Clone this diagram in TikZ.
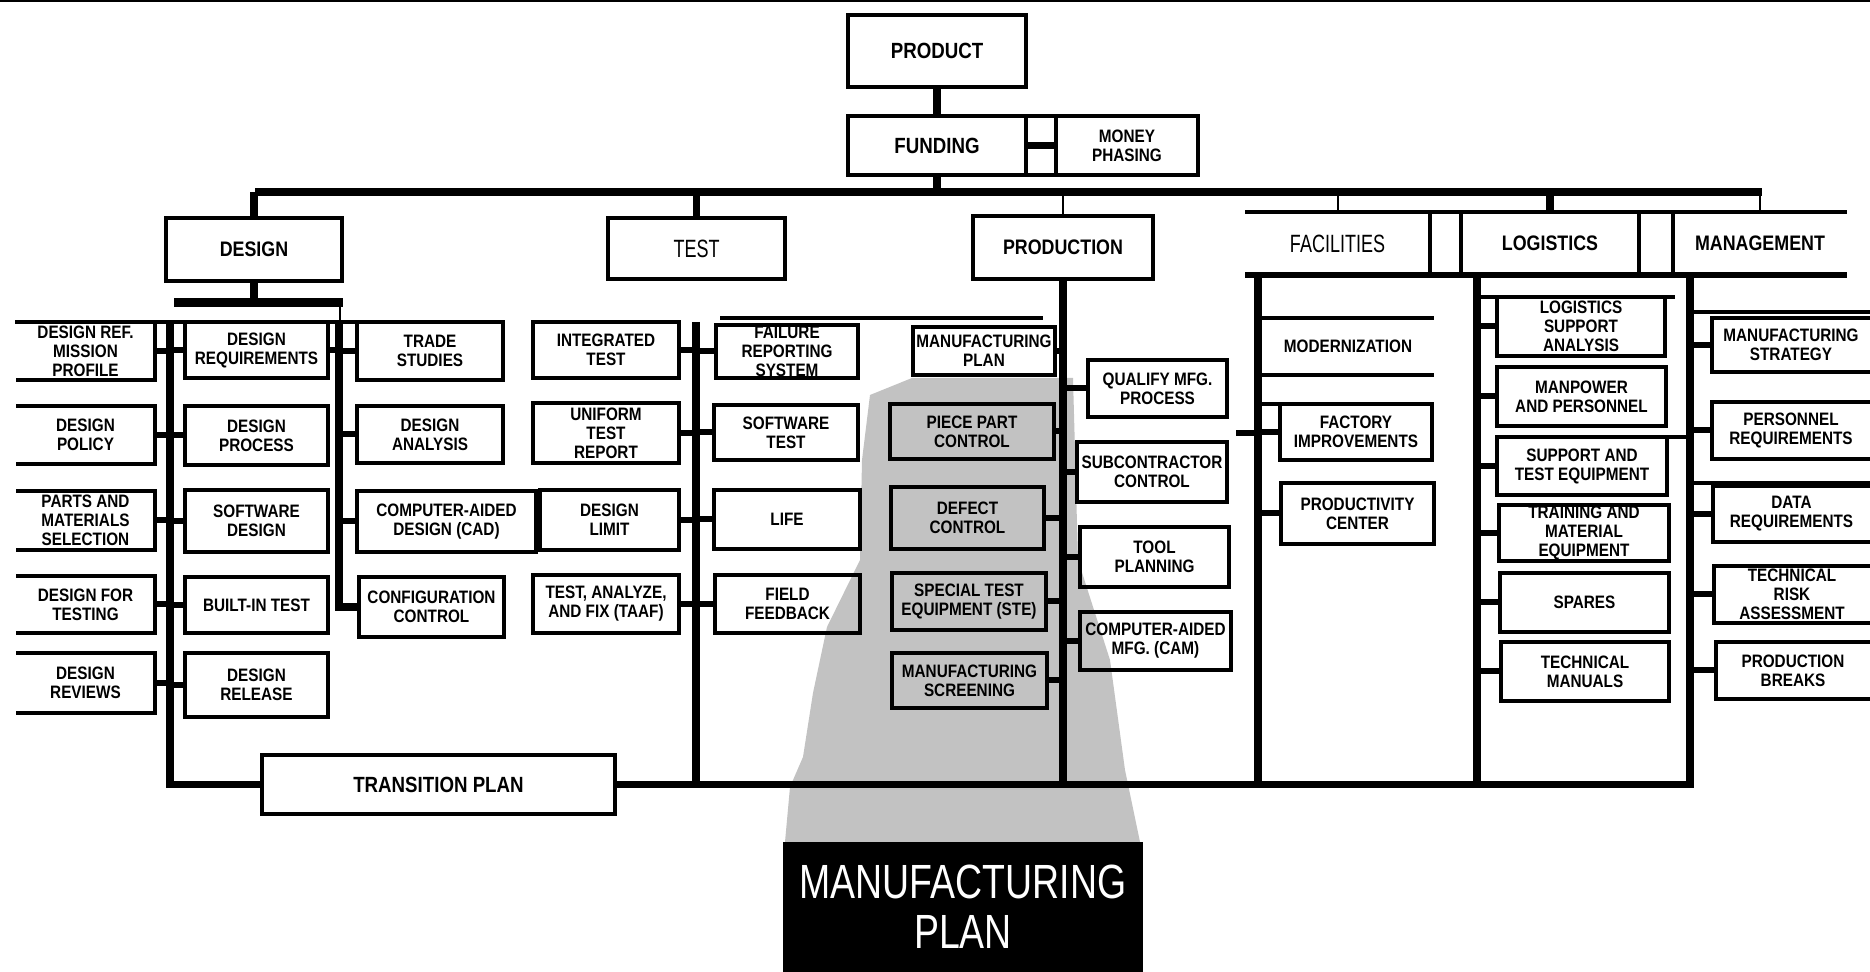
\documentclass[tikz,border=0pt]{standalone}
\usepackage{fontspec}
\setmainfont{Liberation Sans}[FakeStretch=0.85]
\newfontfamily\condreg{Liberation Sans}[FakeStretch=0.72]
\newfontfamily\mfgfont{Liberation Sans}[FakeStretch=0.78]
\usetikzlibrary{calc}
\newcommand\bx[7][]{%
  \node[bbox,minimum width={(#5-#3)*0.5pt},minimum height={(#6-#4)*0.5pt},#1] (#2) at ({(#3+#5)/2},{(#4+#6)/2}) {#7};}
\begin{document}
\begin{tikzpicture}[x=0.5pt,y=-0.5pt,
  bbox/.style={draw,line width=1.6pt,inner sep=0pt,outer sep=0pt,align=center,font=\bfseries\fontsize{9}{9.5}\selectfont},
  hdr/.style={font=\bfseries\fontsize{10.5}{12}\selectfont},
  big/.style={font=\bfseries\fontsize{11}{12}\selectfont},
  cnd/.style={font=\condreg\fontsize{12.5}{14}\selectfont},
  spine/.style={line width=3.8pt},
  stub/.style={line width=3pt},
  bline/.style={line width=1.6pt},
  thinl/.style={line width=1pt},
  stip/.style={fill=black!24}]
\useasboundingbox (0,0) rectangle (1870,972);
\fill[white] (0,0) rectangle (1870,972);

% shaded funnel
\fill[stip] (912,378) -- (1073,378) -- (1078,560) -- (1110,660) -- (1125,770) -- (1140,842)
  -- (785,842) -- (790,787) -- (803,757) -- (813,693) -- (827,627) -- (860,560) -- (862,460)
  -- (870,395) -- cycle;

% top border
\coordinate (tl) at (0,1); \coordinate (tr) at (1870,1);
\draw[thinl] (tl) -- (tr);

% top of tree
\bx[big]{PROD}{848}{15}{1026}{87}{PRODUCT}
\bx[big]{FUND}{848}{116}{1026}{175}{FUNDING}
\bx{MONEY}{1056}{116}{1198}{175}{MONEY\\PHASING}
\draw[spine] (PROD) -- (FUND);
\draw[spine] (FUND.east) -- (MONEY.west);
\draw[bline] (FUND.north east) -- (MONEY.north west) (FUND.south east) -- (MONEY.south west);

\coordinate (busL) at (255,192); \coordinate (busR) at (1762,192);
\draw[spine] (busL) -- (busR);
\draw[spine] (FUND.south) -- (FUND.south |- busL);

\bx[hdr]{DES}{166}{218}{342}{281}{DESIGN}
\bx[cnd]{TST}{608}{218}{785}{279}{TEST}
\bx[hdr]{PRN}{973}{216}{1153}{279}{PRODUCTION}
\draw[spine] (DES.north) -- (DES.north |- busL);
\draw[spine] (TST.north) -- (TST.north |- busL);
\draw[thinl] (PRN.north) -- (PRN.north |- busL);

% facilities / logistics / management band
\bx[draw=none,cnd]{FAC}{1245}{212}{1430}{275}{FACILITIES}
\bx[draw=none,hdr]{LOG}{1461}{212}{1639}{275}{LOGISTICS}
\bx[draw=none,hdr]{MAN}{1673}{212}{1847}{275}{MANAGEMENT}
\draw[bline] (FAC.north west) -- (MAN.north east);
\draw[line width=2.6pt] (FAC.south west) -- (MAN.south east);
\draw[bline] (FAC.north east) -- (FAC.south east) (LOG.north west) -- (LOG.south west)
  (LOG.north east) -- (LOG.south east) (MAN.north west) -- (MAN.south west);
\draw[thinl] (FAC.north) -- (FAC.north |- busL);
\draw[spine] (LOG.north) -- (LOG.north |- busL);
\draw[thinl] (MAN.north) -- (MAN.north |- busL);

% design area
\coordinate (dbar) at (254,303); \coordinate (dbarL) at (174,303); \coordinate (dbarR) at (343,303);
\draw[spine] (DES.south) -- (dbar);
\draw[line width=4.5pt] (dbarL) -- (dbarR);
\coordinate (dt) at (340,303); \coordinate (dtb) at (340,322);
\draw[thinl] (dt) -- (dtb);
\coordinate (rowL) at (15,322); \coordinate (rowR) at (504,322);
\draw[bline] (rowL) -- (rowR);

\bx[draw=none]{A1}{16}{322}{155}{380}{DESIGN REF.\\MISSION\\PROFILE}
\bx[draw=none]{A2}{16}{406}{155}{464}{DESIGN\\POLICY}
\bx[draw=none]{A3}{16}{491}{155}{550}{PARTS AND\\MATERIALS\\SELECTION}
\bx[draw=none]{A4}{16}{576}{155}{633}{DESIGN FOR\\TESTING}
\bx[draw=none]{A5}{16}{653}{155}{713}{DESIGN\\REVIEWS}
\foreach \n in {A1,A2,A3,A4,A5}
  \draw[bline] (\n.north west) -- (\n.north east) -- (\n.south east) -- (\n.south west);

\bx{B1}{185}{322}{328}{378}{DESIGN\\REQUIREMENTS}
\bx{B2}{185}{406}{328}{465}{DESIGN\\PROCESS}
\bx{B3}{185}{490}{328}{552}{SOFTWARE\\DESIGN}
\bx{B4}{185}{577}{328}{633}{BUILT-IN TEST}
\bx{B5}{185}{653}{328}{717}{DESIGN\\RELEASE}

\bx[font=\bfseries\fontsize{11}{12}\selectfont]{TRANS}{262}{755}{615}{814}{TRANSITION PLAN}
\coordinate (sA) at (170,322);
\draw[spine] (sA) |- (TRANS.west);
\foreach \n in {A1,A2,A3,A4,A5} \draw[stub] (\n.east) -- (\n.east -| sA);
\foreach \n in {B1,B2,B3,B4,B5} \draw[stub] (\n.west) -- (\n.west -| sA);

\bx{C1}{357}{322}{503}{380}{TRADE\\STUDIES}
\bx{C2}{357}{406}{503}{463}{DESIGN\\ANALYSIS}
\bx{C3}{357}{491}{536}{552}{COMPUTER-AIDED\\DESIGN (CAD)}
\bx{C4}{359}{577}{504}{637}{CONFIGURATION\\CONTROL}
\coordinate (sC) at (339,322);
\draw[spine] (sC) |- (C4.west);
\draw[stub] (B1.east) -- (B1.east -| sC);
\foreach \n in {C1,C2,C3} \draw[stub] (\n.west) -- (\n.west -| sC);

% test area
\bx{D1}{533}{322}{679}{378}{INTEGRATED\\TEST}
\bx{D2}{533}{403}{679}{463}{UNIFORM\\TEST\\REPORT}
\bx{D3}{540}{490}{679}{550}{DESIGN\\LIMIT}
\bx{D4}{533}{575}{679}{633}{TEST, ANALYZE,\\AND FIX (TAAF)}
\bx{E1}{716}{325}{858}{378}{FAILURE\\REPORTING\\SYSTEM}
\bx{E2}{714}{405}{858}{460}{SOFTWARE\\TEST}
\bx{E3}{714}{490}{860}{549}{LIFE}
\bx{E4}{715}{575}{860}{633}{FIELD\\FEEDBACK}
\coordinate (efL) at (720,318); \coordinate (efR) at (1043,318);
\draw[bline] (efL) -- (efR);
\coordinate (sD) at (696,322);
\draw[spine] (sD) -- (sD |- TRANS.east);
\foreach \n in {D1,D2,D3,D4} \draw[stub] (\n.east) -- (\n.east -| sD);
\foreach \n in {E1,E2,E3,E4} \draw[stub] (\n.west) -- (\n.west -| sD);

% bottom bus and management spine
\coordinate (sM) at (1690,275);
\draw[spine] (TRANS.east) -| (sM);

% production area
\bx{F1}{913}{327}{1055}{375}{MANUFACTURING\\PLAN}
\bx{F2}{890}{404}{1054}{459}{PIECE PART\\CONTROL}
\bx{F3}{891}{487}{1044}{549}{DEFECT\\CONTROL}
\bx{F4}{892}{573}{1046}{630}{SPECIAL TEST\\EQUIPMENT (STE)}
\bx{F5}{892}{653}{1047}{708}{MANUFACTURING\\SCREENING}
\bx{G1}{1088}{360}{1227}{417}{QUALIFY MFG.\\PROCESS}
\bx{G2}{1077}{442}{1227}{502}{SUBCONTRACTOR\\CONTROL}
\bx{G3}{1080}{527}{1229}{587}{TOOL\\PLANNING}
\bx{G4}{1080}{612}{1231}{670}{COMPUTER-AIDED\\MFG. (CAM)}
\draw[spine] (PRN.south) -- (PRN.south |- TRANS.east);
\foreach \n in {F1,F2,F3,F4,F5} \draw[stub] (\n.east) -- (\n.east -| PRN.south);
\foreach \n in {G1,G2,G3,G4} \draw[stub] (\n.west) -- (\n.west -| PRN.south);

% facilities
\coordinate (sF) at (1258,275);
\draw[spine] (sF) -- (sF |- TRANS.east);
\bx[draw=none]{MOD}{1262}{318}{1434}{375}{MODERNIZATION}
\draw[bline] (MOD.north west) -- (MOD.north east) (MOD.south west) -- (MOD.south east);
\bx{FACT}{1280}{404}{1432}{460}{FACTORY\\IMPROVEMENTS}
\bx{PRODC}{1281}{483}{1434}{544}{PRODUCTIVITY\\CENTER}
\draw[bline] (FACT.north west -| sF) -- (FACT.north west);
\draw[stub] (FACT.west) -- (FACT.west -| sF);
\draw[stub] (PRODC.west) -- (PRODC.west -| sF);
\coordinate (fstub) at (1236,433);
\draw[stub] (fstub) -- (fstub -| sF);

% logistics
\coordinate (sL) at (1477,275);
\draw[spine] (sL) -- (sL |- TRANS.east);
\bx{L1}{1497}{297}{1665}{356}{LOGISTICS\\SUPPORT\\ANALYSIS}
\bx{L2}{1497}{367}{1666}{426}{MANPOWER\\AND PERSONNEL}
\bx{L3}{1497}{437}{1667}{495}{SUPPORT AND\\TEST EQUIPMENT}
\bx{L4}{1499}{505}{1669}{561}{TRAINING AND\\MATERIAL\\EQUIPMENT}
\bx{L5}{1500}{573}{1669}{632}{SPARES}
\bx{L6}{1501}{642}{1669}{701}{TECHNICAL\\MANUALS}
\foreach \n in {L1,L2,L3,L4,L5,L6} \draw[stub] (\n.west) -- (\n.west -| sL);
\draw[bline] (L1.north west -| sL) -- ($(L1.north east)+(10,0)$);
\draw[bline] (L3.north east) -- (L3.north east -| sM);

% management
\bx[draw=none]{M1}{1712}{318}{1870}{372}{MANUFACTURING\\STRATEGY}
\bx[draw=none]{M2}{1712}{402}{1870}{459}{PERSONNEL\\REQUIREMENTS}
\bx[draw=none]{M3}{1713}{486}{1870}{542}{DATA\\REQUIREMENTS}
\bx[draw=none]{M4}{1714}{566}{1870}{623}{TECHNICAL\\RISK\\ASSESSMENT}
\bx[draw=none]{M5}{1716}{642}{1870}{699}{PRODUCTION\\BREAKS}
\foreach \n in {M1,M2,M3,M4,M5}{
  \draw[bline] (\n.north east) -- (\n.north west) -- (\n.south west) -- (\n.south east);
  \draw[stub] (\n.west) -- (\n.west -| sM);}
\coordinate (mla) at (1690,312); \coordinate (mlb) at (1690,483);
\draw[bline] (mla) -- (mla -| tr);
\draw[bline] (mlb) -- (mlb -| tr);

% manufacturing plan block
\node[fill=black,text=white,inner sep=0pt,outer sep=0pt,minimum width=180pt,minimum height=65pt,
  align=center,font=\mfgfont\fontsize{24}{25}\selectfont] (MP) at (963,907) {MANUFACTURING\\PLAN};
\end{tikzpicture}
\end{document}
